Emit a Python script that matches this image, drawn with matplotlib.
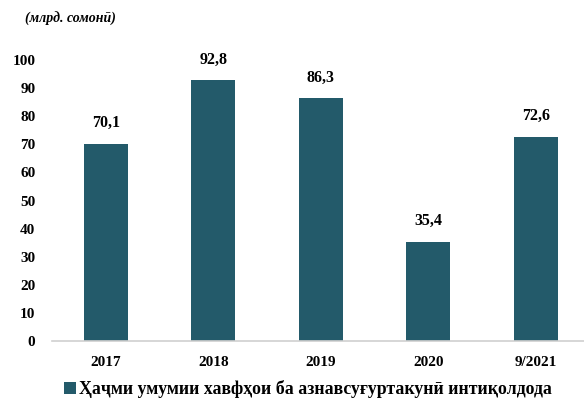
import matplotlib.pyplot as plt
from matplotlib.patches import Patch

categories = ['2017', '2018', '2019', '2020', '9/2021']
values = [70.1, 92.8, 86.3, 35.4, 72.6]
value_labels = ['70,1', '92,8', '86,3', '35,4', '72,6']
y_ticks = [0, 10, 20, 30, 40, 50, 60, 70, 80, 90, 100]

series_name = 'Ҳаҷми умумии хавфҳои ба азнавсуғуртакунӣ интиқолдода'
unit_label = '(млрд. сомонӣ)'

fonts = ['Liberation Serif', 'DejaVu Serif']
bar_color = '#235a6a'

fig = plt.figure(figsize=(5.84, 4.05), dpi=100)
ax = fig.add_axes([52 / 584, 64 / 405, 537.5 / 584, 281 / 405])

x = range(len(categories))
ax.bar(x, values, width=0.41, color=bar_color)

for xi, v, lab in zip(x, values, value_labels):
    ax.annotate(lab, (xi, v), xytext=(0, 12), textcoords='offset points',
                ha='center', va='baseline', fontsize=11.5, fontweight='bold', family=fonts)

ax.set_xlim(-0.5, 4.5)
ax.set_ylim(0, 100)
ax.set_xticks(list(x))
ax.set_xticklabels(categories, fontsize=11, fontweight='bold', family=fonts)
ax.set_yticks(y_ticks)
ax.set_yticklabels([str(t) for t in y_ticks], fontsize=11, fontweight='bold', family=fonts)
ax.tick_params(axis='both', length=0)
ax.tick_params(axis='x', pad=11)
ax.tick_params(axis='y', pad=12)

for s in ['top', 'right', 'left']:
    ax.spines[s].set_visible(False)
ax.spines['bottom'].set_color('#d0d0d0')
ax.spines['bottom'].set_linewidth(1.2)

fig.text(25 / 584, 1 - 19 / 405, unit_label, fontsize=10, fontweight='bold', style='italic',
         family=fonts, ha='left', va='center')

handle = Patch(facecolor=bar_color, edgecolor='none')
fig.legend([handle], [series_name], loc='center', bbox_to_anchor=(308 / 584, 1 - 389 / 405),
           frameon=False, prop={'family': fonts, 'weight': 'bold', 'size': 12.8},
           handlelength=0.7, handleheight=0.7, handletextpad=0.15)

fig.savefig('out.png', dpi=100)
